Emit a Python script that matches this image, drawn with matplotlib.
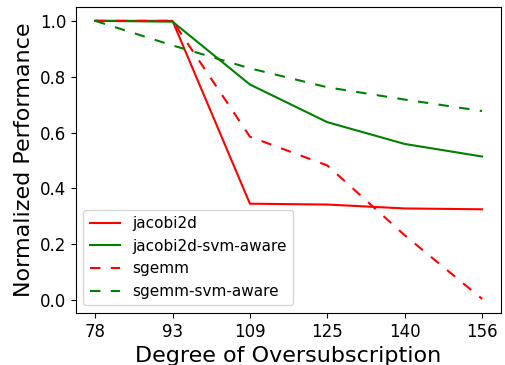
import matplotlib
matplotlib.use("Agg")
import matplotlib.pyplot as plt

# oversubscription levels (categorical, evenly spaced on the x axis)
oversub = ["78", "93", "109", "125", "140", "156"]

jacobi2d           = [1.0, 1.0, 0.345, 0.342, 0.328, 0.325]
jacobi2d_svm_aware = [1.0, 0.997, 0.772, 0.637, 0.559, 0.514]
sgemm              = [1.0, 1.0, 0.585, 0.482, 0.232, 0.004]
sgemm_svm_aware    = [1.0, 0.912, 0.830, 0.762, 0.718, 0.677]

fig = plt.figure(figsize=(5.05, 3.65), dpi=100)
ax = fig.add_axes([0.150, 0.143, 0.843, 0.838])

x = range(len(oversub))
ax.plot(x, jacobi2d, color="red", linestyle="-", label="jacobi2d")
ax.plot(x, jacobi2d_svm_aware, color="green", linestyle="-", label="jacobi2d-svm-aware")
ax.plot(x, sgemm, color="red", linestyle=(0, (5, 5)), label="sgemm")
ax.plot(x, sgemm_svm_aware, color="green", linestyle=(0, (5, 5)), label="sgemm-svm-aware")

ax.set_xticks(list(x))
ax.set_xticklabels(oversub)
ax.set_xlabel("Degree of Oversubscription", fontsize=16)
ax.set_ylabel("Normalized Performance", fontsize=16)
ax.tick_params(labelsize=12)
ax.legend(loc="lower left", fontsize=11)

fig.savefig("out.png", dpi=100)
